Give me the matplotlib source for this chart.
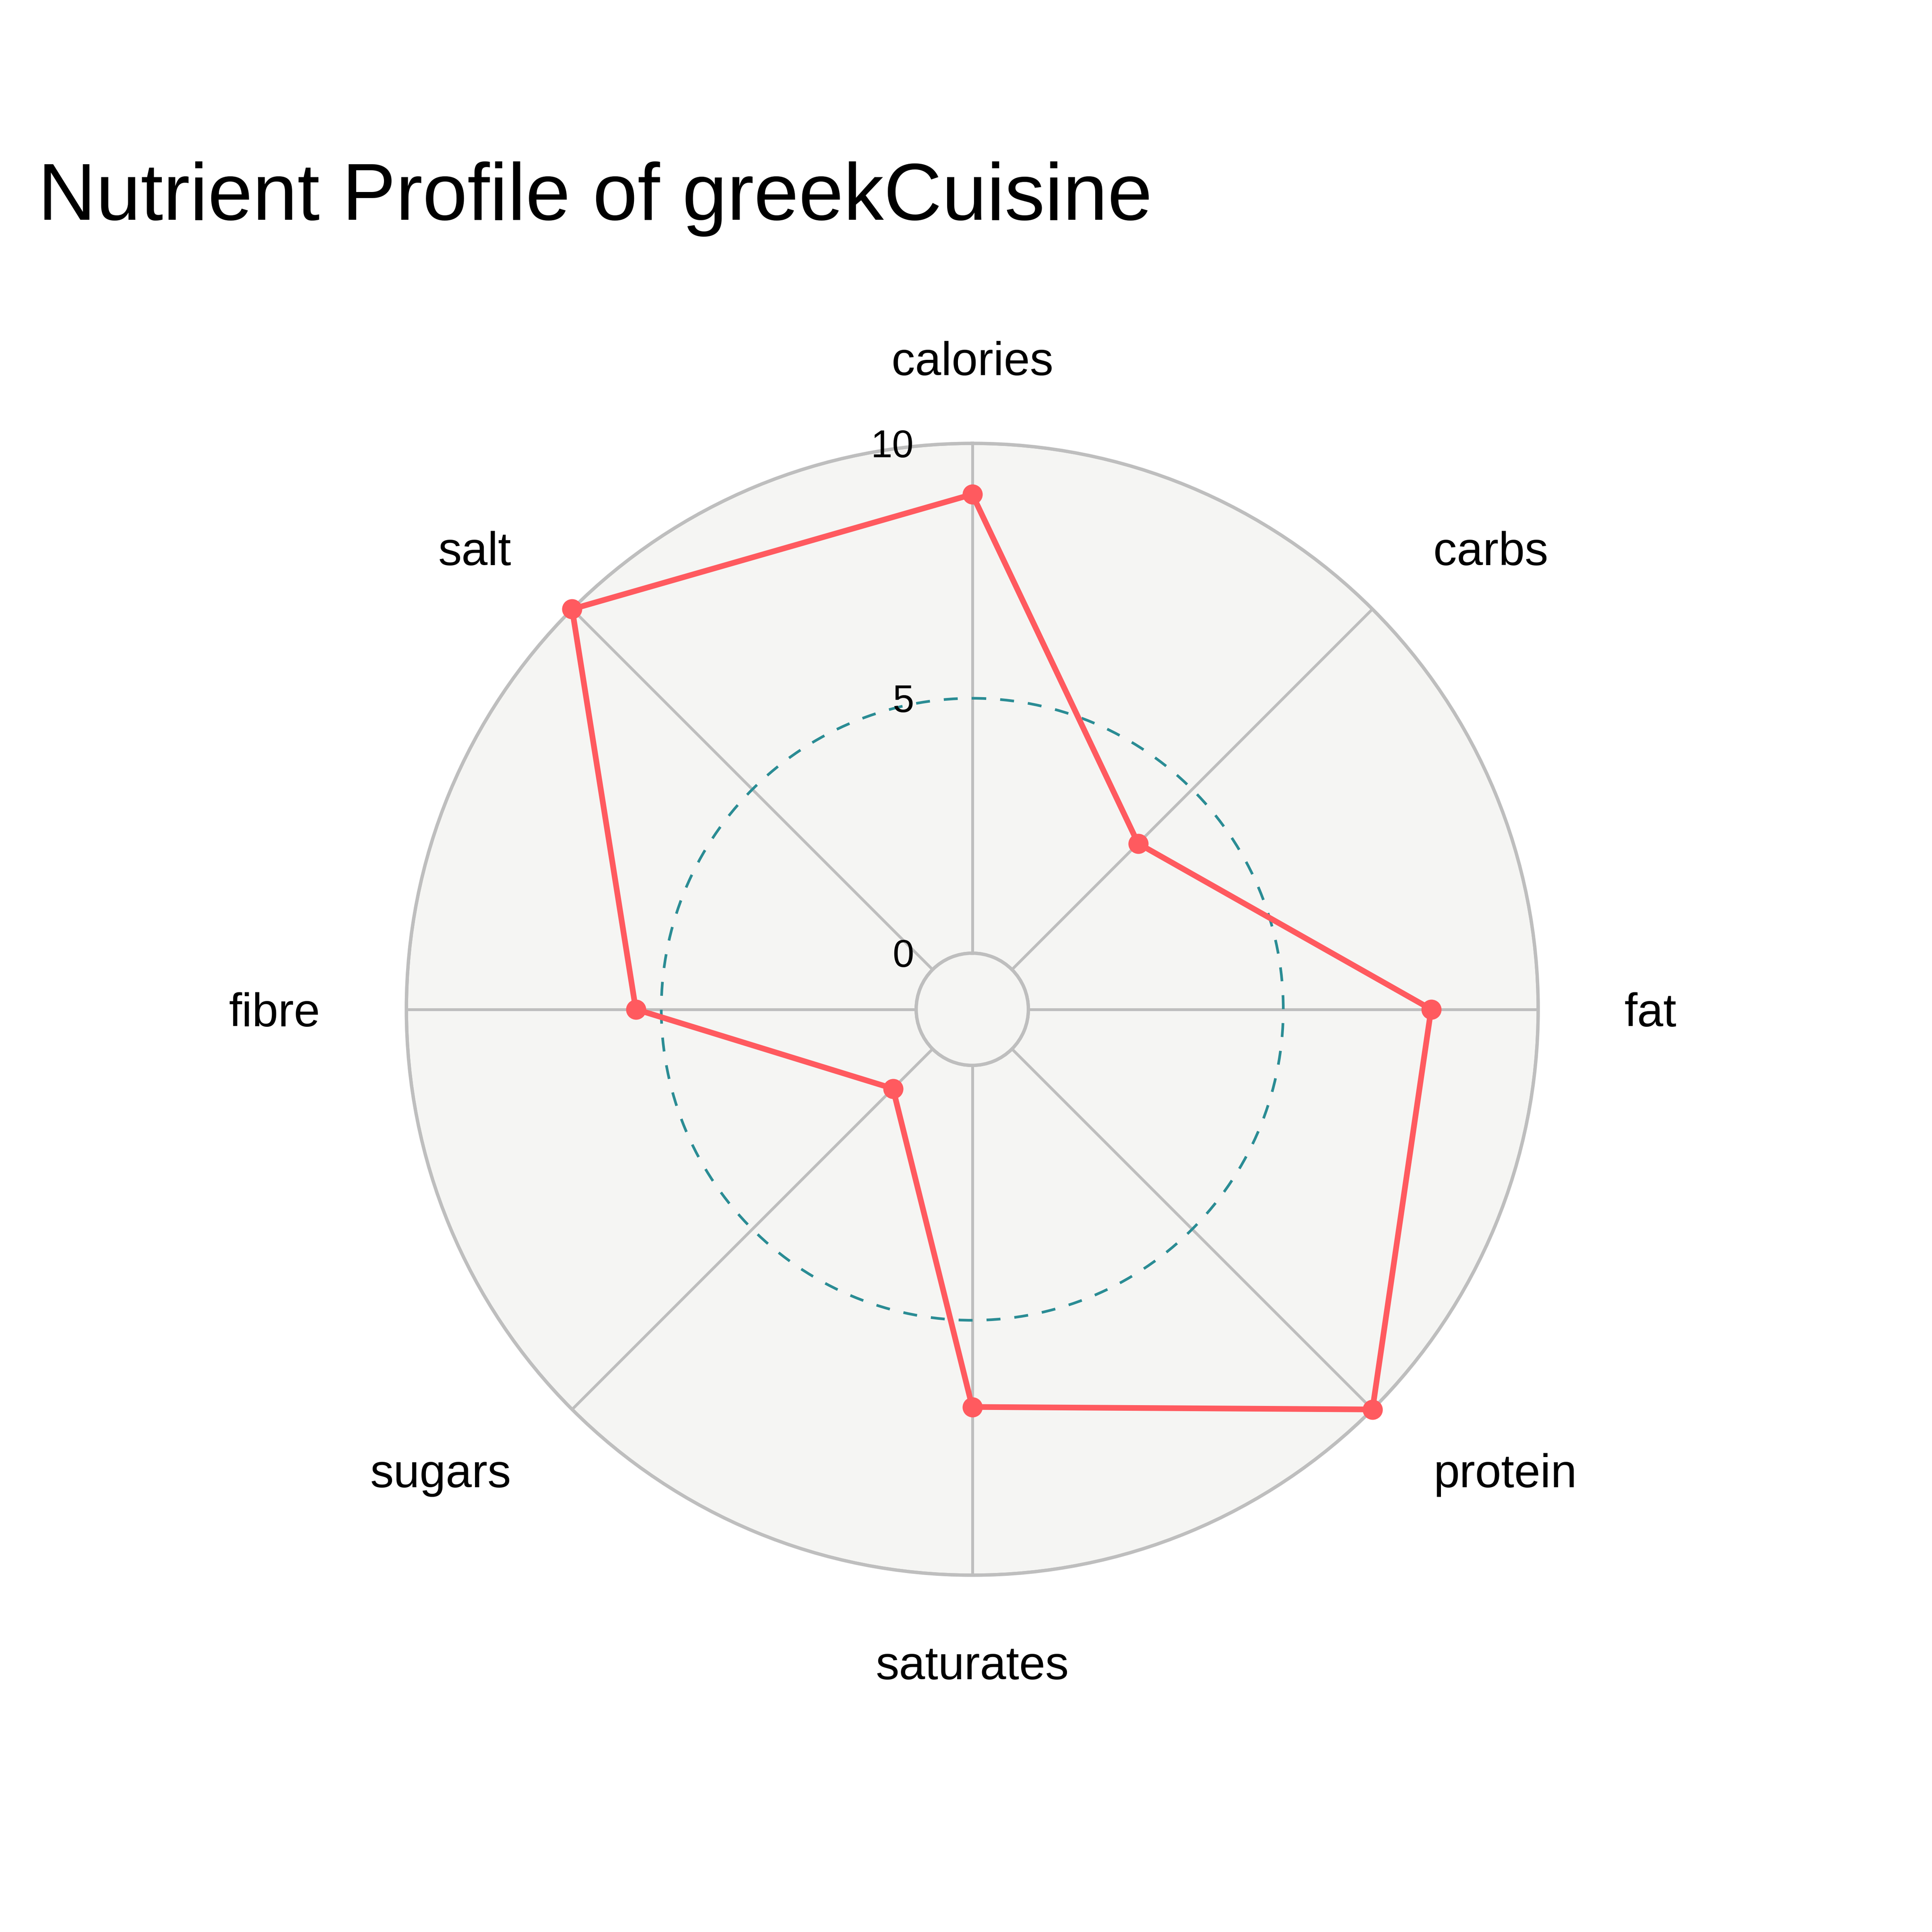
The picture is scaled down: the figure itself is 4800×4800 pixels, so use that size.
import numpy as np
import matplotlib
matplotlib.use("Agg")
import matplotlib.pyplot as plt
from matplotlib.patches import Circle
from matplotlib.transforms import offset_copy

# data
categories = ["calories", "carbs", "fat", "protein", "saturates", "sugars", "fibre", "salt"]
values = [9.0, 3.5, 7.9, 10.0, 6.7, 1.1, 5.5, 10.0]
r_ticks = [0, 5, 10]
cuisine = "greekCuisine"

plt.rcParams['font.family'] = ['Liberation Sans', 'DejaVu Sans']

BG = "#f5f5f3"
GRID = "#bebebe"
RED = "#ff5a5f"
TEAL = "#2a8c94"

fig = plt.figure(figsize=(16, 16), dpi=300)
fig.patch.set_facecolor("white")

# polar area: centre (2416, 2507) px, outer radius 1406 px
cx, cy, rad = 0.50325, 0.47760, 0.29292
ax = fig.add_axes([cx - rad, cy - rad, 2 * rad, 2 * rad], projection="polar")
ax.set_facecolor(BG)
ax.set_theta_zero_location("N")
ax.set_theta_direction(-1)
ax.set_ylim(0, 10)
ax.set_rorigin(-1.1)

# fill the hole in the middle with the same background
fig.patches.append(Circle((cx, cy), rad * 0.1, transform=fig.transFigure,
                          facecolor=BG, edgecolor="none", zorder=-1))

angles = np.linspace(0, 2 * np.pi, len(categories), endpoint=False)
ax.set_xticks(angles)
ax.set_xticklabels([])
ax.set_yticks(r_ticks)
ax.set_yticklabels([])
ax.tick_params(length=0)

for gl in ax.xaxis.get_gridlines():
    gl.set_color(GRID)
    gl.set_linewidth(1.7)
    gl.set_linestyle("-")
for val, gl in zip(r_ticks, ax.yaxis.get_gridlines()):
    if val == 5:
        gl.set_color(TEAL)
        gl.set_linewidth(1.6)
        gl.set_linestyle((0, (5.2, 5.2)))
    else:
        gl.set_color(GRID)
        gl.set_linewidth(2)
        gl.set_linestyle("-")

for name, sp in ax.spines.items():
    sp.set_color(GRID)
    sp.set_linewidth(2)

# data polygon
th = np.append(angles, angles[0])
vv = np.append(values, values[0])
ax.plot(th, vv, color=RED, linewidth=3.4, zorder=5, clip_on=False)
ax.plot(angles, values, "o", color=RED, markersize=11, zorder=6, clip_on=False)

# radial tick labels, left of the top spoke
tick_tr = offset_copy(ax.transData, fig=fig, x=-34.8, y=-8.2, units="points")
for v in r_ticks:
    ax.text(0, v, str(v), transform=tick_tr, ha="right", va="baseline",
            fontsize=23, color="black", zorder=7)

# category labels around the outside
side = 2812.0  # axes side in px
for name, a in zip(categories, angles):
    s, c = np.sin(a), np.cos(a)
    if abs(s) < 1e-6:
        if c > 0:
            x, y = 0.5, 0.5 + 1576 / side
        else:
            x, y = 0.5, 0.5 - 1664 / side
        ha = "center"
    else:
        x = 0.5 + s * 1620 / side
        y = 0.5 + c * 1620 / side - 42 / side
        ha = "left" if s > 0 else "right"
    ax.text(x, y, name, transform=ax.transAxes, ha=ha, va="baseline",
            fontsize=28, color="black", clip_on=False)

fig.text(0.0196, 1 - 545.7 / 4800, f"Nutrient Profile of {cuisine}",
         ha="left", va="baseline", fontsize=48, color="black")

fig.savefig("out.png", dpi=300, facecolor="white")
